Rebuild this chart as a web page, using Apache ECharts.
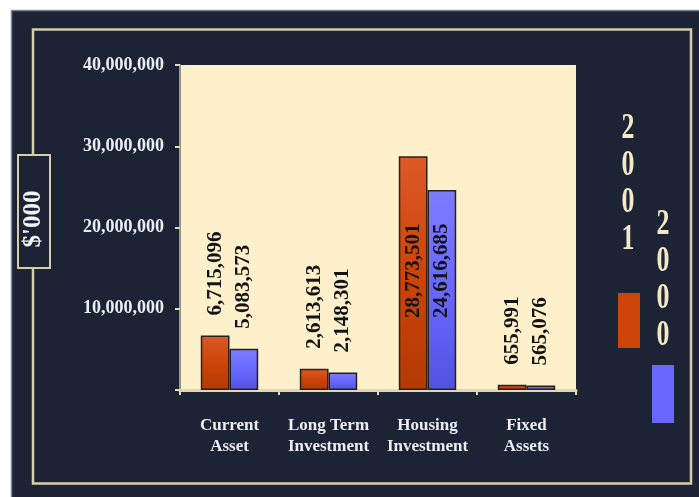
<!DOCTYPE html>
<html>
<head>
<meta charset="utf-8">
<script src="https://cdn.jsdelivr.net/npm/echarts@6/dist/echarts.min.js"></script>
<style>
  html, body { margin: 0; padding: 0; background: #ffffff; }
  #chart { width: 699px; height: 497px; }
</style>
</head>
<body>
<div id="chart"></div>
<script>
// Asset breakdown by category ($'000), 2001 vs 2000
const categories = ['Current\nAsset', 'Long Term\nInvestment', 'Housing\nInvestment', 'Fixed\nAssets'];
const values2001 = [6715096, 2613613, 28773501, 655991];
const values2000 = [5083573, 2148301, 24616685, 565076];
const yTicks = [0, 10000000, 20000000, 30000000, 40000000];
const seriesNames = ['2001', '2000'];

const SERIF = '"Liberation Serif", "Times New Roman", "DejaVu Serif", serif';
const COLOR_2001 = '#CC4408';
const COLOR_2000 = '#6868FF';
const CREAM = '#E2D8AE';

function withCommas(v) {
  return String(v).replace(/\B(?=(\d{3})+(?!\d))/g, ',');
}

// Tall bars carry their value inside, short ones above the bar
function buildData(values) {
  return values.map(function (v) {
    if (v > 20000000) {
      return {
        value: v,
        label: { position: 'insideBottom', distance: 72, align: 'left' }
      };
    }
    return v;
  });
}

function barStyle(top, base, bottom) {
  return {
    color: {
      type: 'linear', x: 0, y: 0, x2: 0, y2: 1,
      colorStops: [
        { offset: 0, color: top },
        { offset: 0.5, color: base },
        { offset: 1, color: bottom }
      ]
    },
    borderColor: '#2a2018',
    borderWidth: 1.5
  };
}

const valueLabel = {
  show: true,
  position: 'top',
  distance: 20,
  rotate: 90,
  align: 'left',
  verticalAlign: 'middle',
  color: '#141414',
  fontFamily: SERIF,
  fontWeight: 'bold',
  fontSize: 21,
  formatter: function (p) { return withCommas(p.value); }
};

const chart = echarts.init(document.getElementById('chart'), null, { renderer: 'canvas' });

chart.setOption({
  backgroundColor: '#1B2335',
  animation: false,
  grid: {
    left: 180, top: 65, right: 123, bottom: 107,
    show: true, backgroundColor: '#FEF0CA', borderWidth: 0
  },
  xAxis: {
    type: 'category',
    data: categories,
    axisLine: { show: true, lineStyle: { color: CREAM, width: 3 } },
    axisTick: { show: true, length: 5, lineStyle: { color: CREAM, width: 2 } },
    axisLabel: {
      color: '#ECEEF4',
      fontFamily: SERIF,
      fontWeight: 'bold',
      fontSize: 17,
      lineHeight: 21,
      margin: 25,
      interval: 0
    }
  },
  yAxis: {
    type: 'value',
    min: yTicks[0],
    max: yTicks[yTicks.length - 1],
    interval: yTicks[1] - yTicks[0],
    splitLine: { show: false },
    axisLine: { show: true, lineStyle: { color: '#9C977E', width: 2 } },
    axisTick: { show: true, length: 5, lineStyle: { color: CREAM, width: 2 } },
    axisLabel: {
      color: '#ECEEF4',
      fontFamily: SERIF,
      fontWeight: 'bold',
      fontSize: 18,
      margin: 16,
      formatter: function (v) { return v === 0 ? '' : withCommas(v); }
    }
  },
  series: [
    {
      name: seriesNames[0],
      type: 'bar',
      data: buildData(values2001),
      barGap: '0%',
      barCategoryGap: '42%',
      itemStyle: barStyle('#DC5A28', COLOR_2001, '#B43A04'),
      label: valueLabel
    },
    {
      name: seriesNames[1],
      type: 'bar',
      data: buildData(values2000),
      barGap: '0%',
      barCategoryGap: '42%',
      itemStyle: barStyle('#7C7CFF', COLOR_2000, '#5252E0'),
      label: valueLabel
    }
  ],
  graphic: [
    // white margin around the dark panel
    { type: 'rect', z: -10, shape: { x: 0, y: 0, width: 699, height: 10 }, style: { fill: '#ffffff' } },
    { type: 'rect', z: -10, shape: { x: 0, y: 0, width: 11, height: 497 }, style: { fill: '#ffffff' } },
    { type: 'line', z: -9, shape: { x1: 11, y1: 10.5, x2: 699, y2: 10.5 }, style: { stroke: '#7E8696', lineWidth: 1.5 } },
    { type: 'line', z: -9, shape: { x1: 11.5, y1: 10, x2: 11.5, y2: 497 }, style: { stroke: '#7E8696', lineWidth: 1.5 } },
    // inner frame
    {
      type: 'rect', z: -5,
      shape: { x: 33, y: 29.5, width: 658, height: 454 },
      style: { fill: null, stroke: '#D8CEA6', lineWidth: 2.5 }
    },
    // unit box on the left frame
    {
      type: 'rect', z: 5,
      shape: { x: 18, y: 155, width: 32, height: 113 },
      style: { fill: '#1B2335', stroke: '#D8CEA6', lineWidth: 2 }
    },
    {
      type: 'text', z: 6,
      x: 34, y: 219, rotation: Math.PI / 2,
      style: {
        text: "$'000", fill: '#F2F2F6',
        font: 'bold 25px ' + SERIF,
        textAlign: 'center', textVerticalAlign: 'middle'
      }
    },
    // legend: stacked year digits with colour swatches
    {
      type: 'text', z: 6,
      x: 628, y: 110, scaleX: 0.72,
      style: {
        text: seriesNames[0].split('').join('\n'), fill: '#F3E9C6',
        font: 'bold 36px ' + SERIF, lineHeight: 37,
        textAlign: 'center', textVerticalAlign: 'top'
      }
    },
    {
      type: 'text', z: 6,
      x: 663, y: 206, scaleX: 0.72,
      style: {
        text: seriesNames[1].split('').join('\n'), fill: '#F3E9C6',
        font: 'bold 36px ' + SERIF, lineHeight: 37,
        textAlign: 'center', textVerticalAlign: 'top'
      }
    },
    { type: 'rect', z: 6, shape: { x: 618, y: 293, width: 22, height: 55 }, style: { fill: COLOR_2001 } },
    { type: 'rect', z: 6, shape: { x: 652, y: 365, width: 22, height: 58 }, style: { fill: COLOR_2000 } }
  ]
});
</script>
</body>
</html>
